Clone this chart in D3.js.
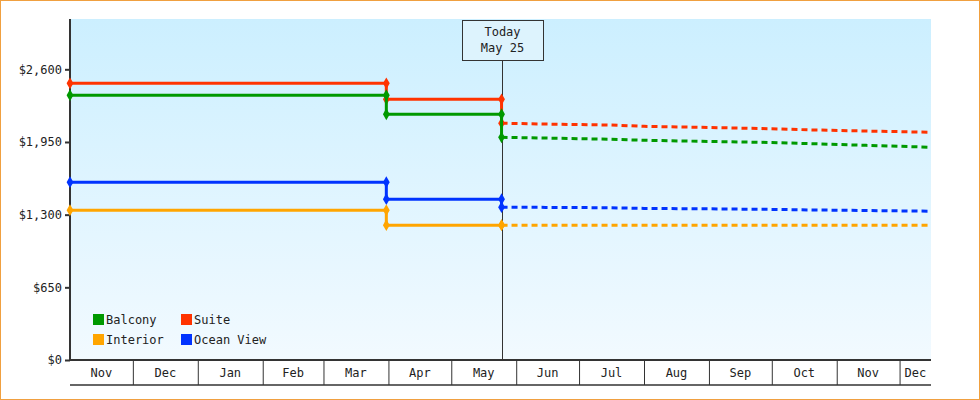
<!DOCTYPE html>
<html><head><meta charset="utf-8">
<script src="https://cdn.jsdelivr.net/npm/d3@7"></script>
<style>
body{margin:0;background:#fff;}
text{font-family:"DejaVu Sans Mono",monospace;font-size:12px;fill:#222;}
</style></head>
<body><div id="chart"></div>
<script>
// historic prices (step changes) and forecast
const seriesNames = ["Balcony", "Suite", "Interior", "Ocean View"];
const seriesColors = ["#009900", "#ff3300", "#ffa500", "#0033ff"];
const histDates = ["2023-11-01", "2024-03-31", "2024-05-25"];
const histValues = [
  [2368, 2198, 1992],
  [2475, 2332, 2118],
  [1340, 1206, 1206],
  [1590, 1438, 1367]
];
const fcDates = ["2024-05-25", "2024-06-15", "2024-07-15", "2024-08-01", "2024-09-01", "2024-10-01", "2024-10-20", "2024-11-15", "2024-12-16"];
const fcValues = [
  [1992, 1985, 1975, 1965, 1955, 1945, 1935, 1920, 1903],
  [2118, 2110, 2102, 2090, 2080, 2068, 2058, 2048, 2037],
  [1206, 1206, 1206, 1206, 1206, 1206, 1206, 1206, 1206],
  [1367, 1365, 1362, 1356, 1352, 1347, 1342, 1337, 1331]
];
const yTicks = [0, 650, 1300, 1950, 2600];
const todayDate = "2024-05-25";
const todayLabel = ["Today", "May 25"];

const parse = d3.timeParse("%Y-%m-%d");
const W = 980, H = 400;
const m = {l: 70, r: 49, t: 19, b: 40};
const svg = d3.select("#chart").append("svg").attr("width", W).attr("height", H);

svg.append("rect").attr("x", 0.5).attr("y", 0.5).attr("width", W - 1).attr("height", H - 1)
  .attr("fill", "#fff").attr("stroke", "#f0a040");

const defs = svg.append("defs");
const grad = defs.append("linearGradient").attr("id", "bg").attr("x1", 0).attr("y1", 0).attr("x2", 0).attr("y2", 1);
grad.append("stop").attr("offset", 0).attr("stop-color", "#ccefff");
grad.append("stop").attr("offset", 1).attr("stop-color", "#f2faff");

const x = d3.scaleTime().domain([parse("2023-11-01"), parse("2024-12-16")]).range([m.l, W - m.r]);
const y = d3.scaleLinear().domain([0, 3050]).range([H - m.b, m.t]);
const y0 = H - m.b;

svg.append("rect").attr("x", m.l).attr("y", m.t).attr("width", W - m.r - m.l).attr("height", y0 - m.t)
  .attr("fill", "url(#bg)");

// y axis
const ya = svg.append("g").attr("transform", `translate(${m.l},0)`)
  .call(d3.axisLeft(y).tickValues(yTicks).tickSize(5).tickFormat(d => "$" + d3.format(",")(d)));
ya.select(".domain").remove();
ya.selectAll("line").attr("stroke", "#333").attr("stroke-width", 2);
ya.selectAll("text").attr("font-family", "DejaVu Sans Mono").attr("font-size", 12).attr("fill", "#222");
svg.append("line").attr("x1", m.l).attr("x2", m.l).attr("y1", m.t).attr("y2", y0 + 1)
  .attr("stroke", "#333").attr("stroke-width", 2);

// x axis: month cells
const months = d3.timeMonths(parse("2023-11-01"), parse("2024-12-16"));
const xa = svg.append("g");
xa.append("line").attr("x1", m.l).attr("x2", W - m.r).attr("y1", y0).attr("y2", y0).attr("stroke", "#333").attr("stroke-width", 2);
xa.append("line").attr("x1", m.l).attr("x2", W - m.r).attr("y1", y0 + 25).attr("y2", y0 + 25).attr("stroke", "#333").attr("stroke-width", 1.5);
months.forEach((d, i) => {
  const a = x(d), b = Math.min(x(d3.timeMonth.offset(d, 1)), W - m.r);
  if (i > 0) xa.append("line").attr("x1", a + 0.5).attr("x2", a + 0.5).attr("y1", y0).attr("y2", y0 + 25).attr("stroke", "#333");
  xa.append("text").attr("x", (a + b) / 2).attr("y", y0 + 17).attr("text-anchor", "middle").text(d3.timeFormat("%b")(d));
});

// today marker
const tx = Math.round(x(parse(todayDate))) + 0.5;
svg.append("line").attr("x1", tx).attr("x2", tx).attr("y1", 61).attr("y2", y0).attr("stroke", "#333");
svg.append("rect").attr("x", tx - 40).attr("y", 20.5).attr("width", 81).attr("height", 40)
  .attr("fill", "#ddf3fd").attr("stroke", "#333");
todayLabel.forEach((t, i) => svg.append("text").attr("x", tx).attr("y", 36 + i * 16).attr("text-anchor", "middle").text(t));

// series
const stepLine = d3.line().x(d => x(d[0])).y(d => y(d[1])).curve(d3.curveStepAfter);
const fcLine = d3.line().x(d => x(d[0])).y(d => y(d[1]));
const diamond = d3.symbol().type(d3.symbolDiamond).size(40);
[1, 0, 3, 2].forEach(s => {
  const c = seriesColors[s];
  const hp = histDates.map((d, i) => [parse(d), histValues[s][i]]);
  svg.append("path").datum(hp).attr("d", stepLine).attr("fill", "none").attr("stroke", c).attr("stroke-width", 3);
  const fp = fcDates.map((d, i) => [parse(d), fcValues[s][i]]);
  svg.append("path").datum(fp).attr("d", fcLine).attr("fill", "none").attr("stroke", c)
    .attr("stroke-width", 3).attr("stroke-dasharray", "6,4");
  const pts = [];
  hp.forEach((p, i) => { if (i > 0) pts.push([p[0], hp[i - 1][1]]); pts.push(p); });
  svg.selectAll(null).data(pts).enter().append("path").attr("d", diamond)
    .attr("transform", d => `translate(${x(d[0])},${y(d[1])})`).attr("fill", c);
});

// legend
const lg = svg.append("g").attr("transform", "translate(93,314)");
[[0, 0, 0], [1, 88, 0], [2, 0, 20], [3, 88, 20]].forEach(([s, dx, dy]) => {
  lg.append("rect").attr("x", dx).attr("y", dy).attr("width", 11).attr("height", 11).attr("fill", seriesColors[s]);
  lg.append("text").attr("x", dx + 13).attr("y", dy + 10).text(seriesNames[s]);
});
</script></body></html>
